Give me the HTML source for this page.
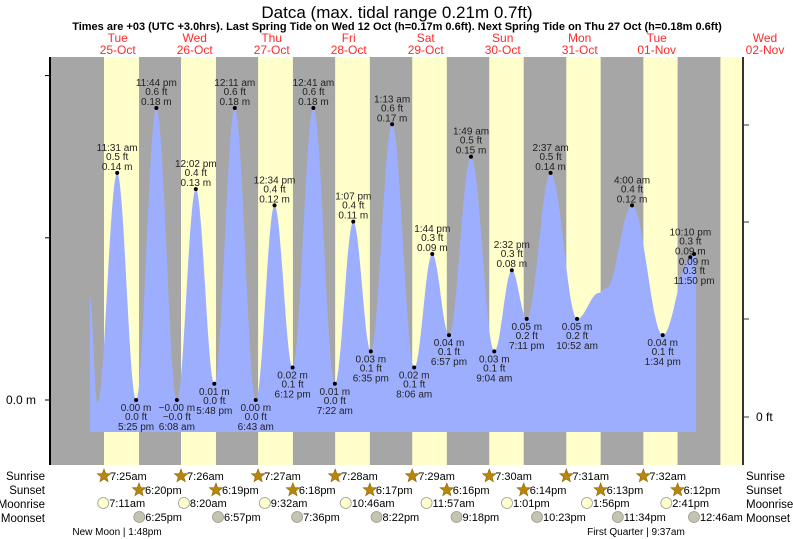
<!DOCTYPE html>
<html><head><meta charset="utf-8">
<style>
body{margin:0;background:#fff;width:793px;height:539px;overflow:hidden}
svg{display:block;font-family:"Liberation Sans",sans-serif}
</style></head>
<body>
<svg id="chart" width="793" height="539" viewBox="0 0 793 539">
<text x="397" y="18" text-anchor="middle" font-size="17">Datca (max. tidal range 0.21m 0.7ft)</text>
<text x="397" y="30" text-anchor="middle" font-size="11" font-weight="bold">Times are +03 (UTC +3.0hrs). Last Spring Tide on Wed 12 Oct (h=0.17m 0.6ft). Next Spring Tide on Thu 27 Oct (h=0.18m 0.6ft)</text>
<g id="bands"></g>
<path id="tide" fill="#9eaeff"></path>
<g id="marks"></g>
<line x1="50" y1="57" x2="50" y2="465" stroke="#000" stroke-width="2"/>
<line x1="743" y1="57" x2="743" y2="465" stroke="#333" stroke-width="2"/>
<g id="ticks"></g>
<g id="days"></g>
<g id="astro"></g>
</svg>
<script>
const dayNames=["Tue","Wed","Thu","Fri","Sat","Sun","Mon","Tue","Wed"];
const dayDates=["25-Oct","26-Oct","27-Oct","28-Oct","29-Oct","30-Oct","31-Oct","01-Nov","02-Nov"];
const sunrise=["7:25am","7:26am","7:27am","7:28am","7:29am","7:30am","7:31am","7:32am","7:33am"];
const sunset=["6:20pm","6:19pm","6:18pm","6:17pm","6:16pm","6:14pm","6:13pm","6:12pm","6:11pm"];
const moonrise=["7:11am","8:20am","9:32am","10:46am","11:57am","1:01pm","1:56pm","2:41pm"];
const moonsetDay=[0,1,2,3,4,5,6,8];
const moonset=["6:25pm","6:57pm","7:36pm","8:22pm","9:18pm","10:23pm","11:34pm","12:46am"];
const tideDay=[0,0,0,0,0,1,1,1,2,2,2,2,3,3,3,3,4,4,4,4,5,5,5,5,6,6,6,6,7,7,7,7,7];
const tideTime=["3:00am","5:20am","11:31am","5:25pm","11:44pm","6:08am","12:02pm","5:48pm","12:11am","6:43am","12:34pm","6:12pm","12:41am","7:22am","1:07pm","6:35pm","1:13am","8:06am","1:44pm","6:57pm","1:49am","9:04am","2:32pm","7:11pm","2:37am","10:52am","5:40pm","8:00pm","4:00am","1:34pm","10:10pm","11:20pm","11:59pm"];
const tideH=[0.064,-0.002,0.14,0.00,0.18,-0.00,0.13,0.01,0.18,0.00,0.12,0.02,0.18,0.01,0.11,0.03,0.17,0.02,0.09,0.04,0.15,0.03,0.08,0.05,0.14,0.05,0.066,0.069,0.12,0.04,0.088,0.09,0.095];
const tideMLabel=["","","0.14 m","0.00 m","0.18 m","−0.00 m","0.13 m","0.01 m","0.18 m","0.00 m","0.12 m","0.02 m","0.18 m","0.01 m","0.11 m","0.03 m","0.17 m","0.02 m","0.09 m","0.04 m","0.15 m","0.03 m","0.08 m","0.05 m","0.14 m","0.05 m","","","0.12 m","0.04 m","0.09 m","0.09 m",""];
const tideFt=["","","0.5 ft","0.0 ft","0.6 ft","−0.0 ft","0.4 ft","0.0 ft","0.6 ft","0.0 ft","0.4 ft","0.1 ft","0.6 ft","0.0 ft","0.4 ft","0.1 ft","0.6 ft","0.1 ft","0.3 ft","0.1 ft","0.5 ft","0.1 ft","0.3 ft","0.2 ft","0.5 ft","0.2 ft","","","0.4 ft","0.1 ft","0.3 ft","0.3 ft",""];
const tideKind=["","","H","L","H","L","H","L","H","L","H","L","H","L","H","L","H","L","H","L","H","L","H","L","H","L","","","H","L","H","L",""];
const tideTimeLabel=["","","11:31 am","5:25 pm","11:44 pm","6:08 am","12:02 pm","5:48 pm","12:11 am","6:43 am","12:34 pm","6:12 pm","12:41 am","7:22 am","1:07 pm","6:35 pm","1:13 am","8:06 am","1:44 pm","6:57 pm","1:49 am","9:04 am","2:32 pm","7:11 pm","2:37 am","10:52 am","","","4:00 am","1:34 pm","10:10 pm","11:50 pm",""];

const NS="http://www.w3.org/2000/svg";
const X0=80.2, PXD=77, Y0=400, PXM=1622;
function hrs(s){const m=s.match(/(\d+):(\d+)\s*(am|pm)/);let h=+m[1]%12;if(m[3]=="pm")h+=12;return h+ +m[2]/60;}
function xs(day,t){return X0+PXD*(day+hrs(t)/24);}
function ys(h){return Y0-h*PXM;}
function mk(tag,attrs,parent,txt){const e=document.createElementNS(NS,tag);for(const k in attrs)e.setAttribute(k,attrs[k]);if(txt!==undefined)e.textContent=txt;parent.appendChild(e);return e;}

const bands=document.getElementById('bands');
const bg=mk('rect',{x:50,y:57,width:693,height:408,fill:'#a6a6a6'},bands);


for(let k=0;k<9;k++){
  const a=xs(k,sunrise[k]), b=Math.min(743,xs(k,sunset[k]));
  const r=mk('rect',{x:a,y:57,width:b-a,height:408,fill:'#ffffcc'},bands);
  
  
}
let pts=tideDay.map((d,i)=>[xs(d,tideTime[i]),ys(tideH[i])]);
let dstr="M"+pts[0][0]+",432 L"+pts[0][0]+","+pts[0][1];
for(let i=0;i<pts.length-1;i++){
  const [x1,y1]=pts[i],[x2,y2]=pts[i+1];
  for(let s=1;s<=20;s++){const f=s/20;const c=(1-Math.cos(Math.PI*f))/2;dstr+=" L"+(x1+(x2-x1)*f).toFixed(1)+","+(y1+(y2-y1)*c).toFixed(1);}
}
dstr+=" L"+pts[pts.length-1][0]+",432 Z";
document.getElementById('tide').setAttribute('d',dstr);
const marks=document.getElementById('marks');
for(let i=0;i<pts.length;i++){
  if(!tideKind[i])continue;
  const [x,y]=pts[i];
  const g=mk('g',{'font-size':10,'text-anchor':'middle',fill:'#222'},marks);
  
  
  mk('circle',{cx:x,cy:y,r:2,fill:'#000'},g);
  if(tideKind[i]=="H"){
    mk('text',{x:x,y:y-22},g,tideTimeLabel[i]);
    mk('text',{x:x,y:y-13},g,tideFt[i]);
    mk('text',{x:x,y:y-3},g,tideMLabel[i]);
  }else{
    mk('text',{x:x,y:y+11},g,tideMLabel[i]);
    mk('text',{x:x,y:y+20},g,tideFt[i]);
    mk('text',{x:x,y:y+30},g,tideTimeLabel[i]);
  }
}
const ticks=document.getElementById('ticks');
[0,0.1,0.2].forEach(v=>{mk('line',{x1:45,x2:50,y1:ys(v),y2:ys(v),stroke:'#000'},ticks);});
const ml=mk('text',{x:36,y:404,'font-size':12,'text-anchor':'end'},ticks,'0.0 m');


[417,319,222,125].forEach(y=>{mk('line',{x1:743,x2:749,y1:y,y2:y,stroke:'#333'},ticks);});
const fl=mk('text',{x:756,y:421,'font-size':12},ticks,'0 ft');


const days=document.getElementById('days');
for(let k=0;k<9;k++){
  const x=k<8?X0+PXD*(k+0.5)-1:765;
  const g=mk('g',{'font-size':12,'text-anchor':'middle',fill:'#ff2a2a'},days);
  
  
  mk('text',{x:x,y:42},g,dayNames[k]);
  mk('text',{x:x,y:54},g,dayDates[k]);
}
const astro=document.getElementById('astro');
const rows=[["Sunrise",480],["Sunset",494],["Moonrise",508],["Moonset",522]];
rows.forEach(([n,y])=>{
  const a=mk('text',{x:45,y:y,'font-size':11.5,'text-anchor':'end'},astro,n);
  
  
  const b=mk('text',{x:746,y:y,'font-size':11.5},astro,n);
  
  
});
function star(x,y){const p=[];for(let i=0;i<10;i++){const r=i%2?3:7;const a=-Math.PI/2+i*Math.PI/5;p.push((x+r*Math.cos(a)).toFixed(1)+","+(y+r*Math.sin(a)).toFixed(1));}
  const s=mk('polygon',{points:p.join(" "),fill:'#b8860b',stroke:'#8a6508','stroke-width':0.6},astro);
  
  }
function moon(x,y,fill){const c=mk('circle',{cx:x,cy:y,r:5.5,fill:fill,stroke:'#999','stroke-width':0.8},astro);
  
  }
for(let k=0;k<8;k++){
  let x=xs(k,sunrise[k]);star(x,476);mk('text',{x:x+6,y:480,'font-size':11},astro,sunrise[k]);
  x=xs(k,sunset[k]);star(x,490);mk('text',{x:x+6,y:494,'font-size':11},astro,sunset[k]);
  x=xs(k,moonrise[k]);moon(x,503,'#ffffcc');mk('text',{x:x+6,y:507,'font-size':11},astro,moonrise[k]);
  x=Math.min(694,xs(moonsetDay[k],moonset[k]));moon(x,517,'#c4c4b0');mk('text',{x:x+6,y:521,'font-size':11},astro,moonset[k]);
}
const p1=mk('text',{x:117,y:535,'font-size':10,'text-anchor':'middle'},astro,'New Moon | 1:48pm');


const p2=mk('text',{x:636,y:535,'font-size':10,'text-anchor':'middle'},astro,'First Quarter | 9:37am');


</script>
</body></html>
